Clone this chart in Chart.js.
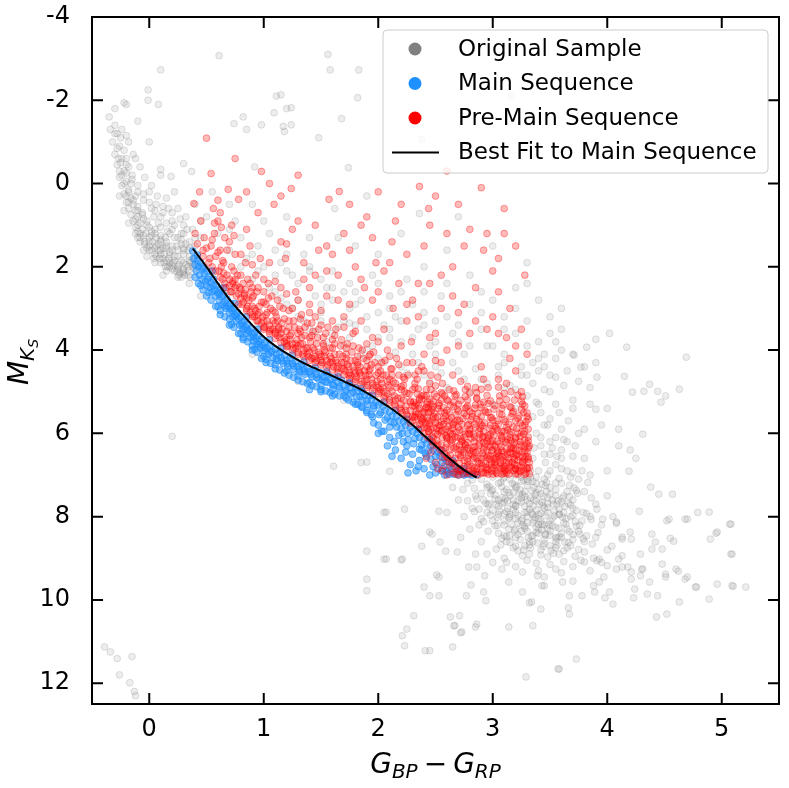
<!DOCTYPE html>
<html>
<head>
<meta charset="utf-8">
<script src="https://cdn.jsdelivr.net/npm/chart.js@4.4.1/dist/chart.umd.min.js"></script>
<style>
  html, body { margin: 0; padding: 0; background: #fff; }
  canvas { display: block; }
</style>
</head>
<body>
<canvas id="cmd" width="789" height="788"></canvas>
<script>
// axis ticks
const xTickValues = [0, 1, 2, 3, 4, 5];
const yTickValues = [-4, -2, 0, 2, 4, 6, 8, 10, 12];

// best fit to the main sequence (colour, M_Ks)
const fitX = [0.38, 0.5, 0.6, 0.7, 0.8, 0.9, 1.0, 1.1, 1.2, 1.3, 1.4, 1.5, 1.6, 1.7, 1.8, 1.9, 2.0, 2.1, 2.2, 2.3, 2.4, 2.5, 2.6, 2.7, 2.8, 2.86];
const fitY = [1.56, 2.0, 2.4, 2.78, 3.1, 3.4, 3.68, 3.9, 4.08, 4.24, 4.38, 4.5, 4.62, 4.75, 4.88, 5.03, 5.2, 5.38, 5.58, 5.8, 6.05, 6.3, 6.55, 6.78, 6.97, 7.06];

// original sample: upper-left branch
const grayBranch = [
  [-0.3,-1.4],[-0.28,-1.2],[-0.32,-1.0],[-0.26,-0.9],[-0.3,-0.7],[-0.24,-0.6],[-0.28,-0.45],[-0.22,-0.3],[-0.26,-0.15],[-0.2,-0.05],
  [-0.24,0.05],[-0.18,0.15],[-0.22,0.25],[-0.16,0.35],[-0.2,0.45],[-0.14,0.5],[-0.18,0.6],[-0.12,0.65],[-0.16,0.75],[-0.1,0.8],
  [-0.14,0.9],[-0.08,0.95],[-0.12,1.05],[-0.06,1.1],[-0.1,1.15],[-0.03,1.2],[-0.08,1.3],[0.0,1.3],[-0.04,1.4],[0.03,1.4],
  [0.0,1.5],[0.06,1.5],[0.02,1.6],[0.1,1.6],[0.05,1.7],[0.13,1.7],[0.09,1.8],[0.17,1.8],[0.13,1.9],[0.21,1.9],
  [0.18,2.0],[0.25,2.0],[0.22,2.1],[0.3,2.05],[0.27,2.15],[0.34,2.1],[0.31,2.2],[0.36,2.25],[-0.02,0.9],[0.05,1.1],
  [0.1,1.25],[0.15,1.4],[0.2,1.5],[0.25,1.6],[0.3,1.7],[0.35,1.75],[0.08,0.95],[0.18,1.2],[0.28,1.35],[0.35,1.4],
  [0.3,1.0],[0.2,0.9],[0.12,0.7],[0.02,0.6],[-0.05,0.4],[-0.1,0.2],[-0.15,-0.1],[-0.18,-0.4],[-0.22,-0.8],[-0.25,-1.1],
  [0.4,1.5],[0.38,1.1],[0.32,0.8],[0.25,0.6],[0.15,0.35],[-0.35,-1.6],[-0.3,-1.8],[-0.2,-1.9],[-0.1,-1.5],[0.0,-1.0],
  [0.1,-0.2],[0.22,0.2],[0.4,0.5],[0.45,0.9],[-0.05,1.6],[0.05,1.9],[0.15,2.1],[0.25,2.25],[0.12,2.2],[-0.02,1.75],
  [0.45,1.3],[0.5,0.8],[-0.1,1.0],[-0.05,1.25],[0.0,1.4],[0.05,1.55],[0.1,1.7],[0.15,1.85],[0.2,1.95],[0.25,2.05],
  [0.3,2.15],[0.08,1.45],[0.12,1.55],[0.18,1.65],[0.22,1.75],[0.28,1.85],[0.32,1.95],[-0.18,0.45],[-0.2,0.3],[-0.24,-0.2],
  [-0.27,-0.6],[-0.12,0.85],[-0.08,1.2],[0.02,1.25],[0.14,1.3],[0.24,1.5],[0.3,1.55],[0.36,1.9],[0.38,2.0],[-0.06,0.7],
  [-0.2,-0.6],[-0.26,-0.3],[-0.22,0.0],[-0.18,0.2],[-0.14,0.4],[-0.1,0.55],[-0.06,0.75],[-0.02,1.0],[0.02,1.15],[0.06,1.3],
  [0.1,1.4],[0.14,1.55],[0.18,1.7],[0.22,1.85],[0.26,1.95],[0.3,1.9],[0.34,2.0],[0.04,0.8],[0.1,1.05],[0.16,1.15],
  [0.22,1.3],[0.28,1.45],[0.34,1.6],[0.38,1.8],[0.0,0.2],[0.06,0.5],[0.2,0.7],[0.3,1.2],[0.42,1.7],[0.4,2.05],
  [-0.12,0.3],[-0.16,0.0],[-0.2,-0.25],[-0.25,-0.5],[-0.28,-0.85],[-0.3,-1.2],[-0.34,-1.3],[-0.24,-1.3],[-0.18,-1.0],[-0.12,-0.6],
  [0.08,1.6],[0.12,1.8],[0.18,1.9],[0.24,2.1],[0.06,1.75],[0.0,1.6],[-0.04,1.45],[-0.1,1.3],[0.14,2.0],[0.28,2.25],
  [0.3,1.6],[0.35,1.85],[0.25,1.75],[0.2,1.6],[0.15,1.5],[0.1,1.35],[0.05,1.2],[0.0,1.05],[-0.05,0.85],[-0.1,0.65],
  [0.25,1.3],[0.2,1.1],[0.15,0.95],[0.1,0.8],[0.05,0.65],[0.0,0.45],[-0.05,0.25],[-0.1,0.05],[-0.15,-0.2],[-0.2,-0.45],
  [0.32,1.45],[0.28,1.2],[0.22,1.0],[0.12,0.55],[0.07,0.3],[0.02,0.05],[-0.04,-0.15],[-0.08,-0.4],[-0.14,-0.7],[-0.2,-1.15],
  [0.34,2.2],[0.3,2.1],[0.26,2.2],[0.2,2.05],[0.16,2.0],[0.1,1.9],[0.04,1.8],[-0.02,1.55],[-0.08,1.4],[-0.12,1.2],
  [0.38,1.95],[0.4,1.8],[0.36,1.55],[0.4,1.3],[0.33,1.1],[0.27,0.85],[0.17,0.6],[-0.18,0.95],[-0.22,0.65],[-0.26,0.3]
];

// original sample: stars along and above the sequence
const grayBand = [
  [0.6,1.2],[0.7,1.6],[0.8,2.0],[0.9,2.3],[1.0,2.0],[1.1,2.6],[1.2,2.9],[1.3,3.2],[1.4,3.5],[1.5,3.1],
  [1.6,3.6],[1.7,3.9],[1.8,3.4],[1.9,4.0],[2.0,4.2],[2.1,3.7],[2.2,4.4],[2.3,4.1],[2.4,4.6],[2.5,4.4],
  [2.6,4.9],[2.7,4.5],[2.8,5.0],[2.9,4.7],[3.0,5.3],[3.1,4.9],[3.2,5.4],[3.3,5.1],[3.35,5.6],[3.4,5.3],
  [3.38,6.0],[3.42,6.3],[3.45,5.8],[3.5,6.5],[3.5,5.0],[3.55,6.1],[3.6,6.6],[3.4,4.5],[3.55,4.2],[3.7,5.4],
  [3.8,5.9],[3.65,6.9],[1.25,2.2],[1.55,2.5],[1.85,2.8],[2.15,3.2],[2.45,3.9],[2.75,4.1],[3.05,4.4],[3.25,4.6],
  [0.95,1.5],[1.15,1.9],[1.45,2.7],[1.75,3.0],[2.05,3.4],[2.35,3.5],[2.65,3.6],[2.95,3.9],[3.4,3.8],[3.6,3.5],
  [3.2,3.0],[2.9,2.6],[2.55,2.7],[2.25,2.3],[1.95,2.2],[1.65,1.3],[1.35,1.7],[1.05,1.2],[0.75,0.9],[0.55,0.2],
  [0.9,0.5],[1.2,0.8],[3.6,3.0],[3.7,4.1],[3.9,4.3],[4.0,5.4],[3.85,4.9],[0.35,2.4],[0.45,2.7],[0.9,4.1],
  [1.3,4.75],[1.7,5.2],[3.35,6.6],[3.4,6.9],[3.45,6.5],[3.5,6.2],[3.55,6.75],[3.6,6.4],[3.42,5.5],[3.5,5.65],
  [3.38,5.25],[3.6,5.9],[3.65,6.2],[3.48,7.0],[3.55,5.3],[3.7,6.55],[3.75,6.0],[3.45,4.95],[3.35,4.8],[3.5,4.6],
  [3.62,4.85],[3.7,5.2],[3.38,7.05],[3.3,7.1],[3.2,7.0],[3.1,7.05],[1.4,2.1],[1.75,2.4],[2.1,2.7],[2.4,3.1],
  [0.85,1.8],[0.95,2.1],[1.05,2.5],[1.15,2.75],[1.25,3.0],[1.35,3.3],[1.45,3.55],[1.55,3.8],[1.65,3.45],[1.75,3.7],
  [1.85,4.1],[1.95,3.9],[2.05,4.3],[2.15,4.05],[2.25,4.55],[2.35,4.3],[2.45,4.75],[2.55,4.55],[2.65,4.3],[2.75,4.7],
  [2.85,4.45],[2.95,4.8],[3.05,4.6],[3.15,4.85],[3.25,4.4],[3.35,4.3],[3.45,4.1],[3.55,4.65],[3.65,4.5],[3.75,4.75],
  [1.1,1.6],[1.3,2.4],[1.5,2.9],[1.7,2.6],[1.9,3.2],[2.1,3.0],[2.3,3.7],[2.5,3.3],[2.7,3.4],[2.9,3.1],
  [3.1,3.5],[3.3,3.3],[3.5,3.6],[1.2,2.1],[1.6,2.1],[2.0,1.7],[2.4,2.0],[2.8,2.2],[3.2,2.5],[3.4,2.8],
  [0.7,0.5],[1.0,0.9],[1.4,1.3],[1.8,1.5],[2.2,1.2],[2.6,1.6],[3.0,1.5],[3.3,1.9],[2.7,0.8],[1.9,0.3],
  [3.42,6.1],[3.52,6.35],[3.46,6.7],[3.56,6.55],[3.62,6.15],[3.36,6.35],[3.58,5.5],[3.48,5.8],[3.66,5.7],[3.72,6.3],
  [3.8,6.6],[3.9,6.2],[3.95,5.8],[3.85,5.3],[3.78,6.9],[3.68,7.05],[4.1,5.9],[4.2,6.4],[3.33,6.9],[3.25,7.15],
  [1.5,4.3],[1.9,4.85],[2.1,5.15],[2.4,5.6],[2.6,6.1],[2.75,6.45],[1.2,3.9],[0.95,3.4],[0.7,2.6],[0.55,2.2],
  [1.5,2.3],[1.6,2.8],[1.7,3.3],[1.8,2.9],[1.9,3.5],[2.0,3.1],[2.1,3.5],[2.2,3.3],[2.3,2.9],[2.4,3.4],
  [2.5,3.8],[2.6,3.2],[2.7,3.8],[2.8,3.9],[2.9,3.5],[3.0,3.9],[3.1,4.1],[3.2,3.6],[3.3,3.9],[3.4,4.2],
  [2.2,2.6],[2.6,2.4],[3.0,2.8],[3.3,2.4],[3.5,3.2],[3.6,4.0],[3.8,4.4],[3.3,4.6],[3.2,4.95],[3.1,4.3],
  [2.0,2.4],[1.8,2.6],[1.6,2.5],[1.4,2.0],[1.2,1.7],[2.4,2.6],[2.8,2.9],[3.1,3.2],[2.5,4.1],[2.2,3.8],
  [2.0,3.7],[1.75,3.35],[1.5,3.3],[1.3,2.8],[1.1,2.2],[0.9,1.7],[0.8,1.3],[0.7,1.1],[3.55,3.8],[3.45,4.4]
];

// original sample: faint red clump below the cut
const grayClump = [
  [2.9,7.1],[2.95,7.3],[3.0,7.05],[3.05,7.2],[3.1,7.4],[3.15,7.1],[3.2,7.3],[3.25,7.05],[3.3,7.25],[3.35,7.15],
  [3.4,7.35],[3.45,7.1],[3.5,7.3],[3.55,7.5],[3.6,7.2],[3.65,7.4],[3.7,7.6],[2.85,7.5],[2.92,7.6],[2.98,7.45],
  [3.03,7.7],[3.08,7.55],[3.13,7.8],[3.18,7.6],[3.23,7.45],[3.28,7.75],[3.33,7.55],[3.38,7.85],[3.43,7.65],[3.48,7.9],
  [3.53,7.7],[3.58,7.95],[3.63,7.75],[3.68,8.0],[3.73,7.85],[3.78,8.1],[2.95,7.9],[3.0,8.1],[3.05,7.95],[3.1,8.2],
  [3.15,8.0],[3.2,8.3],[3.25,8.1],[3.3,8.35],[3.35,8.15],[3.4,8.4],[3.45,8.2],[3.5,8.45],[3.55,8.25],[3.6,8.5],
  [3.65,8.3],[3.7,8.55],[3.75,8.35],[3.8,8.6],[3.05,8.4],[3.12,8.6],[3.2,8.5],[3.28,8.7],[3.35,8.6],[3.42,8.8],
  [3.5,8.7],[3.58,8.9],[3.65,8.75],[3.72,8.95],[3.8,8.85],[3.88,9.0],[2.78,7.2],[2.82,7.8],[2.88,8.2],[2.7,7.6],
  [2.75,8.0],[2.65,7.3],[2.6,7.9],[2.72,8.5],[2.9,8.6],[2.95,8.9],[3.0,9.1],[3.1,9.0],[3.2,9.2],[3.3,9.05],
  [3.4,9.3],[3.5,9.15],[3.6,9.35],[3.7,9.2],[3.85,9.3],[3.95,9.1],[4.0,8.8],[3.9,8.5],[3.95,8.2],[3.85,8.0],
  [3.9,7.7],[3.8,7.4],[3.75,7.1],[3.7,6.95],[3.6,6.85],[3.5,6.9],[3.85,7.0],[4.0,7.5],[4.05,8.0],[3.1,7.65],
  [3.2,7.9],[3.3,8.0],[3.4,8.05],[3.25,7.55],[3.15,8.45],[3.45,8.55],[3.35,7.95],[3.05,7.6],[3.22,8.15],[3.38,8.25],
  [3.52,8.05],[3.12,7.35],[3.28,7.4],[3.48,7.55],[3.18,8.75],[3.32,8.9],[3.55,8.6],[3.62,8.15],[3.42,7.45],[2.95,7.22],
  [3.07,7.18],[3.19,7.24],[3.31,7.16],[3.43,7.22],[3.55,7.19],[3.67,7.25],[2.9,7.44],[3.02,7.48],[3.14,7.42],[3.26,7.47],
  [3.38,7.43],[3.5,7.46],[3.62,7.5],[3.74,7.44],[2.96,7.72],[3.08,7.68],[3.2,7.73],[3.32,7.69],[3.44,7.74],[3.56,7.7],
  [3.68,7.72],[2.98,7.96],[3.1,7.93],[3.22,7.97],[3.34,7.92],[3.46,7.98],[3.58,7.94],[3.7,7.97],[3.82,7.93],[3.04,8.21],
  [3.16,8.18],[3.28,8.23],[3.4,8.19],[3.52,8.22],[3.64,8.18],[3.76,8.21],[3.1,8.46],[3.22,8.43],[3.34,8.47],[3.46,8.44],
  [3.58,8.48],[3.7,8.43],[3.82,8.46],[3.2,8.71],[3.32,8.68],[3.44,8.72],[3.56,8.69],[3.68,8.7],[3.0,7.85],[3.36,7.3],
  [2.82,7.12],[2.97,7.28],[3.09,7.09],[3.21,7.27],[3.33,7.06],[3.46,7.26],[3.58,7.08],[3.71,7.31],[3.83,7.18],[2.74,7.35],
  [2.86,7.58],[2.99,7.38],[3.11,7.57],[3.24,7.36],[3.36,7.59],[3.47,7.39],[3.61,7.56],[3.73,7.37],[3.86,7.55],[2.78,7.62],
  [2.84,7.88],[2.97,7.69],[3.06,7.86],[3.18,7.71],[3.3,7.89],[3.41,7.7],[3.54,7.87],[3.66,7.68],[3.79,7.9],[3.91,7.82],
  [2.9,8.05],[3.02,8.22],[3.14,8.03],[3.26,8.2],[3.37,8.02],[3.49,8.19],[3.61,8.01],[3.73,8.23],[3.86,8.07],[2.8,8.3],
  [2.96,8.35],[3.08,8.52],[3.19,8.33],[3.31,8.51],[3.43,8.32],[3.55,8.5],[3.67,8.36],[3.79,8.53],[3.92,8.38],[3.03,8.78],
  [3.15,8.62],[3.27,8.8],[3.39,8.63],[3.51,8.81],[3.63,8.61],[3.75,8.79],[3.87,8.66],[2.85,8.9],[3.12,9.1],[3.26,8.94],
  [3.38,9.12],[3.48,8.97],[3.62,9.08],[3.77,9.05],[3.45,9.45],[3.7,9.55],[3.15,7.5],[3.25,7.65],[3.35,7.75],[3.45,7.8],
  [3.3,7.6],[3.2,7.75],[3.4,7.95],[3.5,8.1],[3.3,8.15],[3.2,8.05],[3.4,8.3],[3.5,8.35],[3.6,8.4],[3.35,8.45],
  [3.25,8.35],[3.45,8.65],[3.55,8.75],[3.15,7.95],[3.05,7.75],[3.1,8.1],[3.6,7.65],[3.7,7.8],[3.55,7.35],[3.38,7.2],
  [3.48,7.68],[3.28,7.9],[3.42,8.12],[3.58,8.28],[3.62,7.9],[3.32,8.6],[3.08,7.28],[3.18,7.42],[3.28,7.52],[3.38,7.62],
  [3.48,7.78],[3.58,7.82],[3.18,7.82],[3.28,8.28],[3.38,8.38],[3.48,8.28],[3.22,7.62],[3.32,7.82],[3.42,7.92],[3.52,7.6],
  [3.12,7.88],[3.02,7.58],[3.26,8.05],[3.36,8.08],[3.46,8.42],[3.56,8.52],[3.24,8.55],[3.14,8.3],[3.34,7.38],[3.44,7.52],
  [3.54,7.98],[3.64,8.05],[3.66,8.62],[3.04,8.02],[2.94,7.68],[3.17,7.2],[3.27,7.12],[3.47,7.18],[3.57,7.62],[3.67,7.52],
  [3.72,8.12],[3.76,8.42],[3.62,8.82],[3.42,8.92],[3.22,8.82],[3.12,8.48],[2.92,8.12],[2.88,7.82],[2.84,7.32],[3.0,7.35],
  [3.13,7.62],[3.37,7.48],[3.43,8.18],[3.53,8.88],[3.33,8.75],[3.07,8.68]
];

// original sample: sparse outliers
const grayScatter = [
  [0.61,-3.07],[0.1,-2.73],[-0.01,-2.25],[-0.22,-1.94],[-0.01,-2.0],[0.08,-1.9],[1.56,-3.1],[1.58,-2.73],[1.83,-2.73],[1.82,-2.06],
  [1.11,-2.1],[1.15,-2.13],[1.2,-1.8],[1.24,-1.82],[1.09,-1.7],[0.82,-1.6],[0.74,-1.44],[0.85,-1.3],[0.98,-1.41],[1.17,-1.37],
  [1.18,-1.25],[1.24,-1.41],[1.48,-1.1],[1.68,-1.56],[1.74,-0.38],[0.92,-0.4],[0.37,-0.29],[0.3,-0.48],[0.19,-0.17],[0.1,-0.34],
  [1.62,0.6],[2.36,0.72],[3.16,-2.09],[2.38,-1.06],[0.2,6.07],[1.85,6.7],[3.71,4.12],[3.82,3.93],[3.9,3.74],[4.02,3.6],
  [4.17,3.93],[4.69,4.17],[3.77,4.41],[3.91,4.65],[4.15,4.63],[4.22,5.01],[4.37,4.82],[4.44,4.99],[4.63,4.94],[4.51,5.1],
  [4.47,5.25],[4.32,4.99],[3.9,5.42],[4.31,6.02],[4.19,6.91],[4.38,7.29],[4.45,7.46],[4.57,7.46],[4.54,8.06],[4.7,8.06],
  [4.89,7.89],[5.07,8.18],[4.96,8.37],[5.09,8.9],[5.21,9.69],[5.09,9.66],[4.96,9.62],[4.89,9.98],[4.78,9.69],[4.7,9.45],
  [4.6,9.26],[4.48,9.14],[4.51,9.38],[4.37,9.57],[4.3,9.26],[4.21,9.33],[4.13,9.21],[4.1,9.02],[4.21,8.54],[4.08,8.13],
  [4.28,7.87],[4.13,8.54],[4.04,8.71],[3.93,9.02],[3.8,9.09],[3.97,9.45],[4.24,9.74],[4.44,9.9],[4.63,10.05],[4.52,10.34],
  [4.43,10.41],[4.02,9.81],[3.89,9.81],[3.67,9.9],[3.61,9.57],[3.43,9.66],[3.67,10.34],[3.42,10.22],[3.73,11.42],[3.58,11.66],
  [3.29,11.85],[3.35,10.62],[3.34,10.05],[3.26,9.81],[3.14,9.57],[2.94,10.02],[2.86,10.58],[2.73,10.77],[2.71,10.38],[2.77,9.9],
  [2.66,10.62],[2.45,11.22],[2.23,11.1],[2.25,10.7],[2.21,10.86],[2.31,10.38],[2.45,9.9],[2.53,9.9],[2.4,9.69],[2.53,9.45],
  [2.38,8.71],[2.47,8.42],[2.59,8.83],[2.69,8.85],[2.79,9.21],[2.86,9.21],[2.93,9.42],[3.08,9.26],[3.26,9.33],[3.39,9.42],
  [3.55,9.26],[2.21,9.02],[2.07,9.02],[1.9,8.83],[1.9,9.5],[1.9,9.78],[2.07,7.89],[2.23,7.82],[2.53,7.87],[1.61,6.79],
  [1.9,6.69],[2.1,6.91],[-0.39,11.13],[-0.34,11.25],[-0.28,11.41],[-0.15,11.36],[-0.26,11.8],[-0.17,11.99],[-0.13,12.2],[-0.12,12.3],
  [5.08,8.18],[4.95,8.4],[4.9,8.54],[5.08,8.9],[5.1,9.67],[4.77,9.69],[3.57,11.66],[3.14,10.65],[3.66,10.19],[2.41,11.22],
  [2.65,11.13],[2.63,10.41],[2.67,10.62],[2.72,10.79],[2.85,10.65],[2.05,9.02],[2.2,9.04],[2.05,7.9],[2.45,8.37],[2.54,8.61],
  [2.51,9.4],[2.81,9.64],[2.92,9.81],[3.32,10.07],[3.45,9.66],[3.78,9.9],[3.88,9.66],[3.98,9.95],[4.05,10.1],[4.23,9.95],
  [4.35,9.86],[3.93,9.57],[4.21,9.5],[4.29,9.42],[4.31,9.26],[4.18,9.21],[4.08,9.26],[4.0,9.18],[3.91,9.06],[4.13,8.94],
  [4.29,8.9],[4.39,8.78],[4.48,8.78],[4.58,8.59],[4.62,9.31],[4.68,9.5],[4.51,9.45],[4.39,8.42],[4.42,8.61],[4.55,8.52],
  [4.13,8.49],[4.2,8.37],[4.08,8.16],[3.96,8.06],[4.68,8.06],[4.79,7.9],[4.52,8.1],[4.1,6.3],[4.25,6.6],[4.0,6.9]
];

// main sequence members
const blueBand = [
  [0.38,1.62],[0.39,1.8],[0.4,1.95],[0.41,2.1],[0.42,1.72],[0.43,2.0],[0.44,2.2],[0.45,1.9],[0.46,2.3],[0.47,2.05],
  [0.48,2.15],[0.49,2.35],[0.5,2.1],[0.5,2.45],[0.52,2.25],[0.53,2.5],[0.54,2.38],[0.55,2.6],[0.56,2.3],[0.57,2.55],
  [0.58,2.7],[0.59,2.45],[0.6,2.62],[0.61,2.8],[0.62,2.55],[0.63,2.72],[0.64,2.9],[0.65,2.68],[0.66,2.85],[0.67,3.0],
  [0.68,2.78],[0.69,2.95],[0.7,3.1],[0.71,2.88],[0.72,3.05],[0.73,3.2],[0.74,3.0],[0.75,3.15],[0.76,3.3],[0.77,3.1],
  [0.78,3.25],[0.79,3.4],[0.8,3.2],[0.81,3.35],[0.82,3.5],[0.83,3.3],[0.84,3.45],[0.85,3.6],[0.86,3.38],[0.87,3.55],
  [0.88,3.7],[0.89,3.48],[0.9,3.62],[0.91,3.78],[0.92,3.58],[0.93,3.72],[0.94,3.86],[0.95,3.66],[0.96,3.8],[0.97,3.95],
  [0.98,3.74],[0.99,3.88],[1.0,4.02],[1.01,3.82],[1.03,3.95],[1.04,4.1],[1.05,3.9],[1.07,4.03],[1.08,4.18],[1.1,3.98],
  [1.11,4.1],[1.12,4.25],[1.14,4.06],[1.15,4.18],[1.17,4.32],[1.18,4.12],[1.2,4.25],[1.21,4.4],[1.23,4.2],[1.25,4.32],
  [1.26,4.46],[1.28,4.28],[1.3,4.4],[1.31,4.52],[1.33,4.35],[1.35,4.46],[1.36,4.58],[1.38,4.42],[1.4,4.52],[1.42,4.64],
  [1.44,4.48],[1.46,4.58],[1.48,4.7],[1.5,4.55],[1.52,4.64],[1.54,4.76],[1.56,4.6],[1.58,4.7],[1.6,4.82],[1.62,4.66],
  [1.64,4.76],[1.66,4.88],[1.68,4.72],[1.7,4.84],[1.72,4.96],[1.74,4.8],[1.76,4.9],[1.78,5.02],[1.8,4.9],[1.82,4.98],
  [1.84,5.12],[1.86,5.0],[1.88,5.08],[1.9,5.22],[1.92,5.1],[1.94,5.2],[1.96,5.34],[1.98,5.25],[2.0,5.32],[2.02,5.5],
  [2.04,5.35],[2.06,5.45],[2.08,5.62],[2.1,5.48],[2.12,5.58],[2.14,5.75],[2.16,5.6],[2.18,5.7],[2.2,5.88],[2.22,5.72],
  [2.24,5.82],[2.26,6.0],[2.28,5.85],[2.3,5.95],[2.32,6.12],[2.34,6.0],[2.36,6.1],[2.38,6.28],[2.4,6.15],[2.42,6.25],
  [2.44,6.42],[2.46,6.3],[2.48,6.4],[2.5,6.55],[2.52,6.45],[2.54,6.55],[2.56,6.7],[2.58,6.6],[2.6,6.68],[2.62,6.82],
  [2.64,6.72],[2.66,6.8],[2.68,6.92],[2.7,6.85],[2.72,6.9],[2.75,6.96],[2.78,6.98],[2.82,7.0],[2.86,6.99],[0.55,2.1],
  [0.65,2.5],[0.75,2.88],[0.85,3.2],[0.95,3.5],[1.05,3.75],[1.15,3.95],[1.25,4.12],[1.35,4.28],[1.45,4.42],[1.55,4.52],
  [1.65,4.64],[1.75,4.78],[1.85,4.92],[1.95,5.08],[2.05,5.25],[2.15,5.45],[2.25,5.66],[2.35,5.9],[2.45,6.14],[2.55,6.4],
  [2.65,6.65],[2.75,6.85],[0.6,2.95],[0.8,3.6],[1.0,4.15],[1.2,4.5],[1.4,4.78],[1.6,4.95],[0.7,3.25],[0.9,3.9],
  [1.1,4.35],[1.3,4.62],[1.5,4.85],[0.45,2.45],[0.52,2.62],[0.62,3.05],[0.72,3.38],[0.82,3.7],[0.92,3.98],[1.02,4.22],
  [0.4,2.25],[0.43,2.4],[0.47,2.55],[0.5,2.7],[0.54,2.8],[0.58,2.95],[0.62,3.15],[0.66,3.2],[0.7,3.4],[0.74,3.45],
  [0.78,3.6],[0.82,3.75],[0.86,3.8],[0.9,4.0],[0.94,4.05],[0.98,4.2],[1.02,4.3],[1.06,4.32],[1.1,4.45],[1.14,4.48],
  [1.18,4.55],[1.22,4.6],[1.26,4.65],[1.3,4.72],[1.34,4.76],[1.38,4.8],[1.42,4.85],[1.46,4.88],[1.5,4.95],[1.54,4.98],
  [1.58,5.02],[1.62,5.06],[1.66,5.1],[1.7,5.1],[1.74,5.2],[1.78,5.25],[1.82,5.3],[1.86,5.38],[1.9,5.5],[1.94,5.55],
  [0.42,1.85],[0.46,2.0],[0.51,2.3],[0.56,2.45],[0.61,2.65],[0.66,2.95],[0.71,3.0],[0.76,3.18],[0.81,3.42],[0.86,3.52],
  [0.91,3.68],[0.96,3.88],[1.01,3.95],[1.06,4.05],[1.11,4.2],[1.16,4.26],[1.21,4.32],[1.26,4.38],[1.31,4.46],[1.36,4.52],
  [1.41,4.58],[1.46,4.66],[1.51,4.72],[1.56,4.78],[1.61,4.84],[1.66,4.92],[1.71,5.0],[1.76,5.05],[1.81,5.12],[1.86,5.2],
  [1.91,5.3],[1.96,5.4],[2.01,5.55],[2.06,5.68],[2.11,5.72],[2.16,5.85],[2.21,6.0],[2.26,6.15],[2.31,6.25],[2.36,6.38],
  [2.41,6.48],[2.46,6.62],[2.51,6.75],[2.56,6.85],[2.61,6.95],[2.66,6.98],[2.24,6.45],[2.35,6.8],[2.14,6.2],[2.03,5.95]
];

// main sequence members scattered below the band
const blueScatter = [
  [1.72,5.15],[1.8,5.3],[1.9,5.45],[1.95,5.6],[2.0,5.8],[2.05,5.95],[2.08,6.3],[2.1,6.1],[2.15,6.4],[2.18,6.05],
  [2.2,6.6],[2.25,6.3],[2.28,6.75],[2.3,6.5],[2.33,6.9],[2.36,6.65],[2.4,6.85],[2.42,6.55],[2.45,7.0],[2.48,6.8],
  [2.5,6.95],[2.55,6.9],[2.58,7.0],[2.62,6.98],[2.1,5.85],[2.22,6.2],[2.38,6.4],[1.85,5.35],[2.0,6.0],[1.96,5.75],
  [2.12,6.55],[2.26,6.95],[2.6,6.9],[2.7,7.0],[2.75,7.0],[1.6,5.1],[1.5,5.0],[1.4,4.95]
];

// pre-main sequence: band above the fit
const redBand = [
  [0.4,1.2],[0.42,1.45],[0.45,0.9],[0.47,1.6],[0.48,1.3],[0.39,0.48],[0.5,-1.09],[0.44,0.2],[0.52,1.9],[0.54,1.5],
  [0.55,2.0],[0.57,1.2],[0.58,1.75],[0.6,0.9],[0.56,0.6],[0.54,-0.24],[0.61,2.1],[0.62,1.6],[0.64,2.3],[0.65,1.9],
  [0.66,1.3],[0.68,2.2],[0.69,0.14],[0.67,2.5],[0.63,1.05],[0.71,2.6],[0.72,2.0],[0.73,2.35],[0.75,1.7],[0.76,2.7],
  [0.77,2.2],[0.78,0.38],[0.79,2.5],[0.74,1.25],[0.81,2.9],[0.82,2.4],[0.83,2.65],[0.84,1.9],[0.85,3.05],[0.86,2.3],
  [0.87,2.8],[0.88,1.5],[0.89,2.6],[0.9,3.15],[0.91,2.7],[0.92,3.0],[0.93,2.2],[0.94,3.3],[0.95,2.5],[0.96,2.95],
  [0.97,1.8],[0.98,-0.29],[0.99,3.2],[1.0,2.6],[1.01,3.45],[1.02,2.9],[1.03,3.1],[1.04,2.4],[1.05,3.55],[1.06,3.0],
  [1.07,2.7],[1.08,3.3],[1.09,0.5],[1.1,3.6],[1.11,3.2],[1.12,2.8],[1.13,3.5],[1.14,3.7],[1.15,2.5],[1.16,3.35],
  [1.17,3.0],[1.18,3.8],[1.19,1.8],[1.2,3.55],[1.21,3.9],[1.22,3.3],[1.23,3.65],[1.24,0.12],[1.25,3.0],[1.26,3.95],
  [1.27,3.45],[1.28,2.6],[1.29,3.75],[1.3,4.05],[1.31,3.5],[1.32,3.85],[1.33,3.15],[1.34,4.1],[1.35,2.3],[1.36,3.65],
  [1.37,3.95],[1.38,3.35],[1.39,4.15],[1.4,2.9],[1.41,3.8],[1.42,4.2],[1.43,3.55],[1.44,4.0],[1.45,3.2],[1.46,4.25],
  [1.47,3.7],[1.48,1.6],[1.49,4.1],[1.5,3.4],[1.51,4.3],[1.52,3.9],[1.53,4.15],[1.54,3.6],[1.55,2.7],[1.56,4.35],
  [1.57,0.38],[1.58,3.95],[1.59,4.2],[1.6,3.75],[1.61,4.4],[1.62,4.1],[1.63,3.5],[1.64,4.3],[1.65,2.2],[1.66,0.19],
  [1.67,3.9],[1.68,4.45],[1.69,4.15],[1.7,3.2],[1.71,4.5],[1.72,4.2],[1.73,3.85],[1.74,4.4],[1.75,2.9],[1.76,4.6],
  [1.77,4.05],[1.78,3.6],[1.79,4.5],[1.8,4.25],[1.81,4.65],[1.82,4.35],[1.83,3.95],[1.84,4.55],[1.85,3.3],[1.86,4.75],
  [1.87,4.2],[1.88,2.5],[1.89,4.6],[1.9,4.4],[1.91,4.85],[1.92,4.5],[1.93,4.1],[1.94,4.7],[1.95,3.7],[1.96,4.9],
  [1.97,4.3],[1.98,1.9],[1.99,4.75],[2.0,4.55],[2.01,5.0],[2.02,4.7],[2.03,4.3],[2.04,4.9],[2.05,3.5],[2.06,5.1],
  [2.07,4.6],[2.08,4.0],[2.09,4.85],[2.1,5.2],[2.11,4.45],[2.12,5.0],[2.13,3.0],[2.14,5.3],[2.15,4.8],[2.16,4.2],
  [2.17,5.15],[2.18,4.6],[2.19,5.4],[2.2,4.95],[2.12,1.4],[2.18,2.4],[0.7,2.45],[0.75,2.5],[0.8,2.75],[0.85,2.75],
  [0.9,2.95],[0.95,3.15],[1.0,3.3],[1.05,3.4],[1.1,3.55],[1.15,3.6],[1.2,3.75],[1.25,3.85],[1.3,3.9],[1.35,4.0],
  [1.4,4.05],[1.45,4.15],[1.5,4.15],[1.55,4.25],[1.6,4.3],[1.65,4.4],[1.7,4.45],[1.75,4.55],[1.8,4.55],[1.85,4.6],
  [1.9,4.7],[1.95,4.8],[2.0,4.9],[2.05,5.0],[2.1,4.9],[2.15,5.2],[2.2,5.3],[0.78,2.9],[0.88,3.1],[0.98,3.35],
  [1.08,3.5],[1.18,3.7],[1.28,3.85],[1.38,3.95],[1.48,4.05],[1.58,4.15],[1.68,4.3],[1.78,4.4],[1.88,4.5],[1.98,4.6],
  [2.08,4.75],[0.47,1.75],[0.5,1.55],[0.53,1.8],[0.55,1.35],[0.58,2.1],[0.6,1.65],[0.62,2.25],[0.64,1.85],[0.66,2.4],
  [0.68,1.6],[0.7,2.3],[0.72,2.6],[0.74,2.1],[0.76,2.45],[0.78,2.65],[0.8,2.2],[0.82,2.85],[0.84,2.55],[0.86,2.95],
  [0.88,2.4],[0.9,2.75],[0.92,3.2],[0.94,2.6],[0.96,3.1],[0.98,2.85],[1.0,3.45],[1.02,3.15],[1.04,2.75],[1.06,3.5],
  [1.08,3.05],[1.1,3.35],[1.12,3.65],[1.14,2.95],[1.16,3.5],[1.18,3.25],[1.2,3.85],[1.22,3.05],[1.24,3.6],[1.26,3.3],
  [1.28,3.95],[1.3,3.6],[1.32,3.25],[1.34,3.85],[1.36,3.45],[1.38,4.1],[1.4,3.7],[1.42,3.35],[1.44,4.2],[1.46,3.85],
  [1.48,3.5],[1.5,4.25],[1.52,3.7],[1.54,4.05],[1.56,3.45],[1.58,4.3],[1.6,3.95],[1.62,3.65],[1.64,4.45],[1.66,4.1],
  [1.68,3.75],[1.7,4.3],[1.72,3.95],[1.74,4.6],[1.76,4.25],[1.78,3.9],[1.8,4.7],[1.82,4.15],[1.84,4.4],[1.86,4.0],
  [1.88,4.75],[1.9,4.25],[1.92,4.6],[1.94,4.35],[1.96,4.05],[1.98,4.85],[2.0,4.4],[2.02,4.95],[2.04,4.6],[2.06,4.25],
  [2.08,5.05],[2.1,4.7],[2.12,4.45],[2.14,5.1],[2.16,4.9],[2.18,4.35],[2.2,5.15],[2.22,4.85],[2.24,5.45],[2.26,4.6],
  [2.28,5.25],[2.3,4.95],[2.32,5.6],[2.34,4.7],[2.36,5.2],[2.38,4.4],[2.4,5.5],[2.42,4.95],[2.44,5.7],[2.46,4.6],
  [2.48,5.85],[0.63,2.0],[0.73,2.4],[0.83,2.7],[0.93,3.05],[1.03,3.3],[1.13,3.45],[1.23,3.75],[1.33,3.7],[1.43,3.95],
  [1.53,4.0],[1.63,4.25],[1.73,4.35],[1.83,4.5],[1.93,4.45],[2.03,4.8],[2.13,4.75],[2.23,5.0],[2.33,5.3],[2.43,5.25],
  [0.57,0.95],[0.7,1.4],[0.8,1.7],[0.9,1.95],[1.0,2.3],[1.1,2.35],[1.2,2.65],[1.3,2.8],[1.4,3.1],[1.5,3.05],
  [1.6,3.3],[1.7,3.45],[1.8,3.55],[1.9,3.85],[2.0,3.8],[2.1,4.15],[2.2,3.9],[2.3,4.3],[2.4,4.5],[2.5,4.25],
  [0.95,3.3],[1.0,3.5],[1.05,3.6],[1.1,3.72],[1.15,3.82],[1.2,3.92],[1.25,4.0],[1.3,4.1],[1.35,4.16],[1.4,4.25],
  [1.45,4.3],[1.5,4.36],[1.55,4.42],[1.6,4.48],[1.65,4.55],[1.7,4.6],[1.75,4.68],[1.8,4.75],[1.85,4.82],[1.9,4.9],
  [1.95,4.98],[2.0,5.05],[2.05,5.15],[2.1,5.25],[2.15,5.35],[2.2,5.45],[2.25,5.55],[2.3,5.6],[0.85,3.0],[0.9,3.2],
  [1.12,3.3],[1.22,3.45],[1.32,3.55],[1.42,3.65],[1.52,3.85],[1.62,3.85],[1.72,4.1],[1.82,4.3],[1.92,4.15],[2.02,4.5],
  [2.12,4.6],[2.22,4.65],[2.32,4.8],[2.42,5.1],[0.65,2.15],[0.75,2.3],[0.8,2.55],[0.9,2.5],[1.0,2.85],[1.1,3.1]
];

// pre-main sequence: dense red end of the band
const redCore = [
  [2.21,5.5],[2.22,5.2],[2.23,4.7],[2.24,5.35],[2.25,4.3],[2.26,5.6],[2.27,5.05],[2.28,5.45],[2.29,3.8],[2.3,5.7],
  [2.31,5.25],[2.32,4.9],[2.33,5.55],[2.34,5.8],[2.35,4.5],[2.36,5.4],[2.37,5.9],[2.38,5.1],[2.39,5.65],[2.4,6.0],
  [2.41,5.75],[2.42,5.3],[2.43,6.1],[2.44,5.5],[2.45,4.8],[2.46,5.9],[2.47,6.2],[2.48,5.6],[2.49,5.05],[2.5,6.0],
  [2.51,6.3],[2.52,5.4],[2.53,5.8],[2.54,6.4],[2.55,5.2],[2.56,6.1],[2.57,5.65],[2.58,6.5],[2.59,5.9],[2.6,6.25],
  [2.61,6.6],[2.62,5.5],[2.63,6.0],[2.64,6.7],[2.65,5.8],[2.66,6.35],[2.67,5.1],[2.68,6.8],[2.69,6.1],[2.7,6.5],
  [2.71,5.7],[2.72,6.9],[2.73,6.2],[2.74,5.95],[2.75,6.65],[2.76,5.4],[2.77,6.95],[2.78,6.35],[2.79,6.0],[2.8,6.75],
  [2.81,6.5],[2.82,5.6],[2.83,6.9],[2.84,6.2],[2.85,5.85],[2.86,6.6],[2.87,7.0],[2.88,6.3],[2.89,5.3],[2.9,6.85],
  [2.91,6.1],[2.92,6.55],[2.93,5.75],[2.94,6.95],[2.95,6.4],[2.96,5.5],[2.97,6.75],[2.98,6.2],[2.99,6.9],[3.0,5.95],
  [3.01,6.6],[3.02,6.3],[3.03,6.95],[3.04,5.7],[3.05,6.45],[3.06,6.8],[3.07,6.05],[3.08,5.4],[3.09,6.65],[3.1,6.9],
  [3.11,6.2],[3.12,5.85],[3.13,6.5],[3.14,6.98],[3.15,6.1],[3.16,5.6],[3.17,6.7],[3.18,6.35],[3.19,5.2],[3.2,6.85],
  [3.21,6.5],[3.22,6.0],[3.23,6.9],[3.24,5.75],[3.25,6.3],[3.26,6.7],[3.27,5.5],[3.28,6.15],[3.29,6.95],[3.3,6.45],
  [3.31,5.9],[3.32,6.7],[2.42,6.6],[2.46,6.45],[2.5,6.7],[2.52,6.85],[2.56,6.9],[2.6,7.0],[2.62,6.4],[2.66,6.95],
  [2.7,7.0],[2.74,6.45],[2.78,6.6],[2.82,6.35],[2.86,6.85],[2.9,6.6],[2.94,6.25],[2.98,6.55],[3.02,6.75],[3.06,6.25],
  [3.1,6.45],[3.14,6.6],[3.18,6.9],[3.22,6.65],[3.26,6.45],[3.3,6.85],[2.55,5.95],[2.6,5.7],[2.65,6.15],[2.7,5.3],
  [2.75,6.1],[2.8,5.9],[2.84,5.4],[2.88,5.95],[2.92,5.25],[2.96,6.05],[3.0,6.4],[3.04,6.2],[3.08,5.95],[3.12,6.7],
  [3.16,6.35],[3.2,6.1],[3.24,6.2],[3.28,5.8],[2.48,5.35],[2.58,5.1],[2.68,5.55],[2.78,5.2],[2.88,5.7],[2.98,5.8],
  [3.08,5.55],[3.18,5.85],[2.38,5.7],[2.32,5.35],[2.28,5.75],[2.44,5.95],[2.52,5.6],[2.62,5.95],[2.72,6.4],[2.82,6.8],
  [2.92,6.95],[3.02,6.9],[3.12,6.95],[3.22,6.98],[3.32,6.3],[2.34,5.05],[2.46,4.95],[2.56,4.8],[2.66,5.25],[2.76,4.95],
  [2.86,5.15],[2.96,4.9],[3.06,5.1],[3.16,5.0],[3.26,5.3],[2.2,4.88],[2.35,4.93],[2.5,4.86],[2.62,4.95],[2.78,4.87],
  [2.9,4.94],[3.05,4.89],[2.25,5.04],[2.4,5.08],[2.55,5.02],[2.68,5.07],[2.8,5.03],[2.95,5.09],[3.1,5.04],[3.22,5.08],
  [2.28,5.22],[2.38,5.18],[2.48,5.23],[2.6,5.19],[2.72,5.21],[2.86,5.17],[2.98,5.22],[3.12,5.19],[3.25,5.23],[2.3,5.34],
  [2.42,5.37],[2.53,5.33],[2.66,5.36],[2.78,5.34],[2.9,5.38],[3.02,5.33],[3.15,5.36],[3.28,5.34],[2.35,5.52],[2.46,5.48],
  [2.58,5.51],[2.7,5.47],[2.82,5.52],[2.94,5.49],[3.06,5.53],[3.18,5.48],[3.3,5.51],[2.38,5.66],[2.5,5.63],[2.62,5.67],
  [2.74,5.64],[2.86,5.66],[2.98,5.62],[3.1,5.67],[3.22,5.64],[3.31,5.66],[2.42,5.79],[2.54,5.82],[2.66,5.78],[2.78,5.81],
  [2.9,5.79],[3.02,5.83],[3.14,5.78],[3.26,5.81],[2.44,5.96],[2.56,5.93],[2.68,5.97],[2.8,5.94],[2.92,5.96],[3.04,5.92],
  [3.16,5.97],[3.28,5.95],[2.48,6.11],[2.6,6.08],[2.72,6.12],[2.84,6.09],[2.96,6.11],[3.08,6.07],[3.2,6.12],[3.31,6.09],
  [2.52,6.26],[2.64,6.23],[2.76,6.27],[2.88,6.24],[3.0,6.26],[3.12,6.22],[3.24,6.27],[2.56,6.41],[2.68,6.38],[2.8,6.42],
  [2.92,6.39],[3.04,6.41],[3.16,6.37],[3.28,6.42],[2.6,6.56],[2.72,6.53],[2.84,6.57],[2.96,6.54],[3.08,6.56],[3.2,6.52],
  [3.31,6.57],[2.66,6.71],[2.78,6.68],[2.9,6.72],[3.02,6.69],[3.14,6.71],[3.26,6.68],[2.72,6.86],[2.84,6.83],[2.96,6.87],
  [3.08,6.84],[3.2,6.86],[3.3,6.83],[2.8,6.97],[2.9,6.95],[3.0,6.98],[3.1,6.96],[3.2,6.97],[3.28,6.99],[2.33,5.48],
  [2.37,5.62],[2.41,5.41],[2.45,5.77],[2.49,5.52],[2.53,5.94],[2.57,5.38],[2.61,5.83],[2.65,6.02],[2.69,5.68],[2.73,6.18],
  [2.77,5.58],[2.81,6.12],[2.85,6.46],[2.89,5.88],[2.93,6.33],[2.97,6.62],[3.01,6.04],[3.05,6.54],[3.09,6.83],[3.13,6.15],
  [3.17,6.48],[3.21,6.77],[3.25,5.97],[3.29,6.55],[2.47,6.07],[2.51,6.17],[2.55,6.28],[2.59,6.35],[2.63,6.52],[2.67,6.6],
  [2.71,6.72],[2.75,6.8],[2.79,6.92],[2.83,6.6],[2.87,6.42],[2.91,6.78],[2.95,6.88],[2.99,6.42],[3.03,6.58],[3.07,6.72],
  [3.11,6.88],[3.15,6.78],[3.19,6.62],[3.23,6.42],[3.27,6.88],[3.31,6.62],[2.43,5.62],[2.47,5.42],[2.51,5.12],[2.55,5.48],
  [2.59,5.58],[2.63,5.32],[2.67,5.72],[2.71,5.92],[2.75,5.52],[2.79,5.78],[2.83,6.02],[2.87,5.52],[2.91,5.82],[2.95,6.18],
  [2.99,5.62],[3.03,5.88],[3.07,6.32],[3.11,5.72],[3.15,6.02],[3.19,6.22],[3.23,5.58],[3.27,6.02],[3.31,6.18],[2.64,6.85],
  [2.74,6.98],[2.84,6.97],[2.94,6.72],[3.04,6.97],[3.14,6.88],[3.24,6.92],[3.32,6.97],[2.58,6.78],[2.68,6.32],[2.78,6.22],
  [2.88,6.12],[2.98,6.02],[3.08,6.12],[3.18,6.28],[3.28,6.32],[2.5,5.75],[2.6,5.45],[2.7,5.85],[2.8,5.48],[2.9,5.6],
  [3.0,5.68],[3.1,5.95],[3.2,5.7],[3.3,5.6],[2.36,5.15],[2.46,5.3],[2.56,5.05],[2.66,4.98],[2.76,5.12],[2.86,5.02],
  [2.96,5.28],[3.06,5.22],[3.16,5.38],[3.26,5.12],[2.72,4.75],[2.92,4.7],[3.12,4.8],[2.52,4.65],[2.32,4.6],
  [2.32,5.62],[2.36,5.78],[2.4,5.85],[2.44,5.38],[2.48,6.28],[2.52,6.02],[2.56,6.58],[2.6,6.12],[2.64,5.62],[2.68,6.98],
  [2.72,6.58],[2.76,6.28],[2.8,6.02],[2.84,5.78],[2.88,6.72],[2.92,6.22],[2.96,6.98],[3.0,6.82],[3.04,6.48],[3.08,6.98],
  [3.12,6.38],[3.16,6.82],[3.2,6.4],[3.24,6.82],[3.28,6.62],[3.32,6.82],[2.35,5.32],[2.39,5.48],[2.43,5.88],[2.47,5.68],
  [2.51,5.88],[2.55,5.72],[2.59,6.05],[2.63,6.18],[2.67,6.08],[2.71,6.28],[2.75,6.38],[2.79,6.52],[2.83,6.42],[2.87,6.68],
  [2.91,6.48],[2.95,6.58],[2.99,6.72],[3.03,6.78],[3.07,6.62],[3.11,6.55],[3.15,6.45],[3.19,6.75],[3.23,6.55],[3.27,6.78],
  [3.31,6.35],[2.45,5.18],[2.53,5.28],[2.61,5.22],[2.69,5.42],[2.77,5.38],[2.85,5.32],[2.93,5.45],[3.01,5.42],[3.09,5.32],
  [3.17,5.52],[3.25,5.42],[2.57,5.78],[2.65,5.88],[2.73,5.78],[2.81,5.68],[2.89,6.02],[2.97,5.88],[3.05,5.78],[3.13,5.92],
  [3.21,5.88],[3.29,5.72],[2.62,6.68],[2.7,6.88],[2.78,6.78],[2.86,6.92],[2.94,6.82],[3.02,6.62],[3.1,6.78],[3.18,6.58],
  [3.26,6.58],[2.76,6.02],[2.84,6.32],[2.92,6.08],[3.0,6.18],[3.08,6.42],[3.16,6.18],[3.24,6.08],[3.3,6.25],[2.98,6.32]
];

// pre-main sequence: sparse bright members
const redScatter = [
  [2.36,0.07],[2.3,2.8],[2.25,3.3],[2.44,0.6],[2.5,3.6],[2.55,4.3],[2.45,2.4],[2.65,4.6],[2.7,3.9],[2.75,2.9],
  [2.6,1.2],[2.85,4.9],[2.9,4.4],[2.95,3.5],[3.0,2.1],[2.92,1.6],[3.05,4.7],[3.1,1.2],[3.15,4.2],[3.12,3.7],
  [3.25,5.0],[3.3,4.1],[3.28,2.2],[0.62,0.7],[0.85,1.1],[1.2,1.45],[1.45,1.0],[1.7,1.2],[1.9,0.8],[2.1,1.9],
  [2.4,1.5],[2.65,2.0],[2.8,1.1],[3.05,1.8],[1.3,0.9],[1.6,1.7],[2.2,0.5],[2.5,0.3],[2.9,0.1],[1.8,2.0],
  [2.0,2.6],[2.35,3.2],[2.7,3.1],[2.8,3.6],[3.0,3.2],[2.6,4.0],[3.2,4.5],[2.4,4.1],[1.75,0.5],[1.4,2.5],
  [0.6,0.4],[0.72,1.0],[0.95,0.7],[1.05,1.9],[1.15,0.3],[1.25,1.1],[1.35,1.9],[1.45,2.2],[1.55,1.5],[1.65,2.8],
  [1.75,1.6],[1.85,2.3],[1.95,1.3],[2.05,2.1],[2.15,0.9],[2.25,1.7],[2.35,2.4],[2.45,1.0],[2.55,2.2],[2.65,2.7],
  [2.75,1.5],[2.85,2.5],[2.95,1.2],[3.05,2.6],[3.15,3.0],[3.2,1.5],[3.25,3.5],[2.55,3.0],[2.25,2.9],[1.95,2.8],
  [1.55,2.1],[1.15,1.4],[0.85,0.2],[2.0,0.2],[2.7,0.5],[3.1,0.6],[2.45,3.7],[2.85,3.3],[3.2,3.9],[3.05,3.6],
  [1.05,0.0],[1.3,-0.2],[0.75,-0.6],[2.6,-0.3],[1.85,1.0]
];

const toPoints = list => list.map(p => ({ x: p[0], y: p[1] }));

const originalSample = toPoints([].concat(grayBranch, grayBand, grayClump, grayScatter));
const mainSequence = toPoints([].concat(blueBand, blueScatter));
const preMainSequence = toPoints([].concat(redBand, redCore, redScatter));
const bestFit = fitX.map((x, i) => ({ x: x, y: fitY[i] }));

const legendItems = [
  { label: 'Original Sample', color: 'rgb(128,128,128)', kind: 'dot' },
  { label: 'Main Sequence', color: 'rgb(30,144,255)', kind: 'dot' },
  { label: 'Pre-Main Sequence', color: 'rgb(255,0,0)', kind: 'dot' },
  { label: 'Best Fit to Main Sequence', color: '#000', kind: 'line' }
];

// draws frame, inward ticks, legend and math-style axis titles
const cmdDecor = {
  id: 'cmdDecor',
  afterDatasetsDraw(chart) {
    const ctx = chart.ctx;
    const a = chart.chartArea;
    const xs = chart.scales.x;
    const ys = chart.scales.y;
    const tickLen = 11;
    ctx.save();

    ctx.strokeStyle = '#000';
    ctx.lineWidth = 2;
    ctx.strokeRect(a.left, a.top, a.right - a.left, a.bottom - a.top);
    ctx.beginPath();
    xTickValues.forEach(v => {
      const px = xs.getPixelForValue(v);
      ctx.moveTo(px, a.bottom); ctx.lineTo(px, a.bottom - tickLen);
      ctx.moveTo(px, a.top); ctx.lineTo(px, a.top + tickLen);
    });
    yTickValues.forEach(v => {
      const py = ys.getPixelForValue(v);
      ctx.moveTo(a.left, py); ctx.lineTo(a.left + tickLen, py);
      ctx.moveTo(a.right, py); ctx.lineTo(a.right - tickLen, py);
    });
    ctx.stroke();

    // legend box
    const bx = 383, by = 30, bw = 385, bh = 143;
    ctx.beginPath();
    ctx.roundRect(bx, by, bw, bh, 4);
    ctx.fillStyle = 'rgba(255,255,255,0.8)';
    ctx.fill();
    ctx.strokeStyle = '#cccccc';
    ctx.lineWidth = 1;
    ctx.stroke();
    ctx.font = '23px "DejaVu Sans"';
    ctx.textBaseline = 'middle';
    legendItems.forEach((it, i) => {
      const cy = 49 + i * 34.5;
      if (it.kind === 'dot') {
        ctx.beginPath();
        ctx.arc(415, cy, 6.5, 0, Math.PI * 2);
        ctx.fillStyle = it.color;
        ctx.fill();
      } else {
        ctx.beginPath();
        ctx.moveTo(392, cy); ctx.lineTo(439, cy);
        ctx.strokeStyle = it.color;
        ctx.lineWidth = 2;
        ctx.stroke();
      }
      ctx.fillStyle = '#000';
      ctx.fillText(it.label, 458, cy + 1);
    });

    // x title: G_BP - G_RP
    ctx.textBaseline = 'alphabetic';
    const big = 'italic 28px "DejaVu Sans"';
    const sub = 'italic 20px "DejaVu Sans"';
    const xParts = [
      { t: 'G', f: big, dy: 0, gap: 0 },
      { t: 'BP', f: sub, dy: 5, gap: 0 },
      { t: '\u2212', f: '28px "DejaVu Sans"', dy: 0, gap: 6 },
      { t: 'G', f: big, dy: 0, gap: 6 },
      { t: 'RP', f: sub, dy: 5, gap: 0 }
    ];
    let total = 0;
    xParts.forEach(p => { ctx.font = p.f; p.w = ctx.measureText(p.t).width; total += p.w + p.gap; });
    let cx = (a.left + a.right) / 2 - total / 2;
    xParts.forEach(p => {
      cx += p.gap;
      ctx.font = p.f;
      ctx.fillText(p.t, cx, 773 + p.dy);
      cx += p.w;
    });

    // y title: M_{K_S}
    const yParts = [
      { t: 'M', f: big, dy: 0 },
      { t: 'K', f: sub, dy: 6 },
      { t: 'S', f: 'italic 14px "DejaVu Sans"', dy: 10 }
    ];
    total = 0;
    yParts.forEach(p => { ctx.font = p.f; p.w = ctx.measureText(p.t).width; total += p.w; });
    ctx.translate(28, 362);
    ctx.rotate(-Math.PI / 2);
    cx = -total / 2;
    yParts.forEach(p => {
      ctx.font = p.f;
      ctx.fillText(p.t, cx, p.dy);
      cx += p.w;
    });
    ctx.restore();
  }
};

new Chart(document.getElementById('cmd'), {
  type: 'scatter',
  data: {
    datasets: [
      {
        label: 'Best Fit to Main Sequence',
        type: 'line',
        data: bestFit,
        showLine: true,
        borderColor: '#000',
        borderWidth: 2,
        pointRadius: 0,
        tension: 0.3,
        fill: false,
        order: 0
      },
      {
        label: 'Pre-Main Sequence',
        data: preMainSequence,
        backgroundColor: 'rgba(255,0,0,0.27)',
        borderColor: 'rgba(255,0,0,0.34)',
        borderWidth: 1,
        pointRadius: 3.4,
        order: 1
      },
      {
        label: 'Main Sequence',
        data: mainSequence,
        backgroundColor: 'rgba(30,144,255,0.5)',
        borderColor: 'rgba(30,144,255,0.6)',
        borderWidth: 1,
        pointRadius: 3.4,
        order: 2
      },
      {
        label: 'Original Sample',
        data: originalSample,
        backgroundColor: 'rgba(128,128,128,0.14)',
        borderColor: 'rgba(128,128,128,0.22)',
        borderWidth: 1,
        pointRadius: 3.4,
        order: 3
      }
    ]
  },
  options: {
    responsive: false,
    animation: false,
    events: [],
    layout: { padding: { left: 0, right: 10, top: 17, bottom: 0 } },
    plugins: {
      legend: { display: false },
      tooltip: { enabled: false }
    },
    scales: {
      x: {
        type: 'linear',
        min: -0.5,
        max: 5.5,
        afterBuildTicks: s => { s.ticks = xTickValues.map(v => ({ value: v })); },
        afterFit: s => { s.height = 84; s.paddingLeft = 0; s.paddingRight = 0; },
        ticks: { font: { family: 'DejaVu Sans', size: 24 }, color: '#000', padding: 3 },
        grid: { display: false },
        border: { display: false }
      },
      y: {
        type: 'linear',
        reverse: true,
        min: -4,
        max: 12.5,
        afterBuildTicks: s => { s.ticks = yTickValues.map(v => ({ value: v })); },
        afterFit: s => { s.width = 92; s.paddingTop = 0; s.paddingBottom = 0; },
        ticks: { font: { family: 'DejaVu Sans', size: 24 }, color: '#000', padding: 14 },
        grid: { display: false },
        border: { display: false }
      }
    }
  },
  plugins: [cmdDecor]
});
</script>
</body>
</html>
